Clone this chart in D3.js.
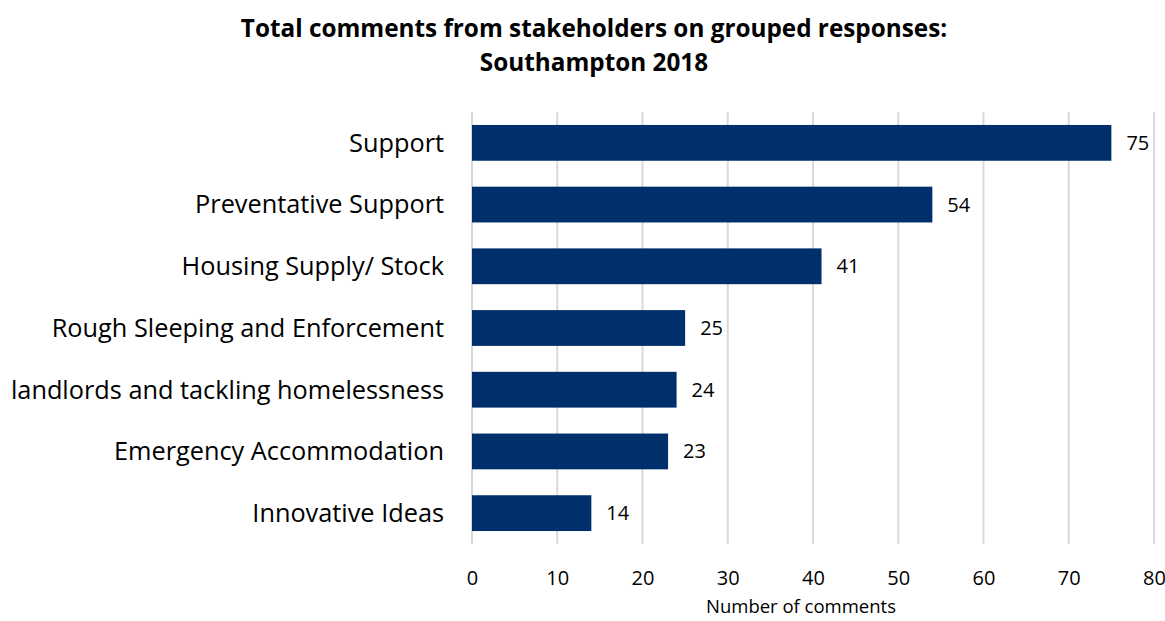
<!DOCTYPE html>
<html>
<head>
<meta charset="utf-8">
<script src="https://cdn.jsdelivr.net/npm/d3@7"></script>
<style>
  html, body { margin: 0; padding: 0; background: #fff; }
  svg { display: block; font-family: "Open Sans", "Noto Sans", sans-serif; }
</style>
</head>
<body>
<svg id="chart" width="1165" height="621"></svg>
<script>
// Grouped response categories and the number of stakeholder comments on each
const categories = [
  "Support",
  "Preventative Support",
  "Housing Supply/ Stock",
  "Rough Sleeping and Enforcement",
  "landlords and tackling homelessness",
  "Emergency Accommodation",
  "Innovative Ideas"
];
const comments = [75, 54, 41, 25, 24, 23, 14];
const xTicks = [0, 10, 20, 30, 40, 50, 60, 70, 80];
const titleLines = ["Total comments from stakeholders on grouped responses:", "Southampton 2018"];
const xAxisTitle = "Number of comments";

const svg = d3.select("#chart");
const margin = { left: 472, right: 11, top: 112, bottom: 77 };
const W = 1165, H = 621;

const x = d3.scaleLinear().domain([0, 80]).range([margin.left, W - margin.right]);
const y = d3.scaleBand().domain(categories).range([margin.top, H - margin.bottom]).paddingInner(0.42).paddingOuter(0.21);

// vertical gridlines
svg.append("g")
  .selectAll("line")
  .data(xTicks)
  .join("line")
  .attr("x1", d => x(d)).attr("x2", d => x(d))
  .attr("y1", margin.top).attr("y2", H - margin.bottom)
  .attr("stroke", "#d9d9d9").attr("stroke-width", 2);

// bars
svg.append("g")
  .selectAll("rect")
  .data(categories)
  .join("rect")
  .attr("x", x(0))
  .attr("y", d => y(d))
  .attr("width", (d, i) => x(comments[i]) - x(0))
  .attr("height", y.bandwidth())
  .attr("fill", "#002f6c");

// value labels
svg.append("g")
  .selectAll("text")
  .data(categories)
  .join("text")
  .attr("x", (d, i) => x(comments[i]) + 15)
  .attr("y", d => y(d) + y.bandwidth() / 2)
  .attr("dy", "0.35em")
  .attr("font-size", 20)
  .attr("fill", "#000")
  .text((d, i) => comments[i]);

// category axis labels
svg.append("g")
  .selectAll("text")
  .data(categories)
  .join("text")
  .attr("x", margin.left - 28)
  .attr("y", d => y(d) + y.bandwidth() / 2)
  .attr("dy", "0.35em")
  .attr("text-anchor", "end")
  .attr("font-size", 25.3)
  .attr("fill", "#000")
  .text(d => d);

// x axis tick labels
const xAxis = d3.axisBottom(x).tickValues(xTicks).tickSize(0).tickPadding(0);
const gx = svg.append("g").attr("transform", `translate(0, ${H - margin.bottom + 34})`).call(xAxis);
gx.select(".domain").remove();
gx.selectAll("text").attr("font-size", 20).attr("fill", "#000").attr("font-family", "Open Sans, sans-serif").attr("dy", "0.35em").attr("y", 0);

// axis title
svg.append("text")
  .attr("x", 801).attr("y", 613)
  .attr("text-anchor", "middle")
  .attr("font-size", 18.5)
  .attr("fill", "#000")
  .text(xAxisTitle);

// chart title
svg.append("g")
  .selectAll("text")
  .data(titleLines)
  .join("text")
  .attr("x", 594)
  .attr("y", (d, i) => 28 + i * 34)
  .attr("dy", "0.35em")
  .attr("text-anchor", "middle")
  .attr("font-size", 24.3)
  .attr("font-weight", "bold")
  .attr("fill", "#000")
  .text(d => d);
</script>
</body>
</html>
